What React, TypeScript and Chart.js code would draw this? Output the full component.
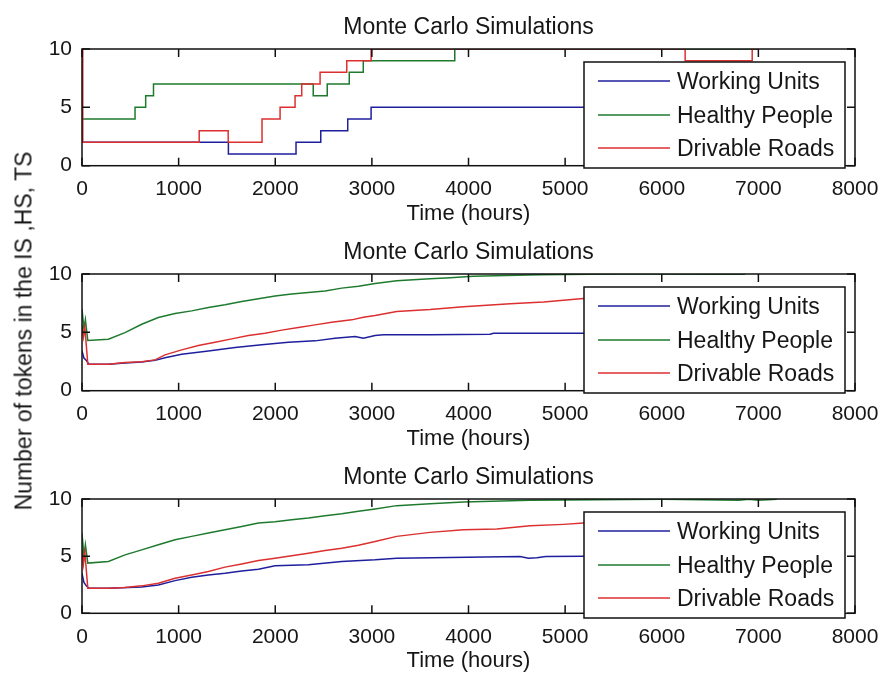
import React, { useEffect, useRef } from 'react';
import { Chart, registerables } from 'chart.js';

Chart.register(...registerables);

// ---------- text ----------
const PLOT_TITLE = 'Monte Carlo Simulations';
const X_TITLE = 'Time (hours)';
const Y_TITLE = 'Number of tokens in the IS ,HS, TS';
const SERIES_NAMES = ['Working Units', 'Healthy People', 'Drivable Roads'];
const SERIES_COLORS = ['#1f1f9e', '#1e7b2e', '#dc2f2f'];

// ---------- ticks ----------
const X_TICKS = [0, 1000, 2000, 3000, 4000, 5000, 6000, 7000, 8000];
const Y_TICKS = [0, 5, 10];

// ---------- subplot 1: single run (step values: value changes at given hour) ----------
const run1WorkingX = [0, 1515, 2215, 2471, 2750, 2992, 7000];
const run1WorkingY = [2, 1, 2, 3, 4, 5, 5];
const run1HealthyX = [0, 549, 659, 740, 2393, 2538, 2766, 2911, 3858, 7000];
const run1HealthyY = [4, 5, 6, 7, 6, 7, 8, 9, 10, 10];
const run1RoadsX = [0, 8, 1213, 1513, 1863, 2050, 2205, 2274, 2464, 2740, 2992, 6242, 6936, 7000];
const run1RoadsY = [10, 2, 3, 2, 4, 5, 6, 7, 8, 9, 10, 9, 10, 10];

// ---------- subplot 2: averaged runs ----------
const run2WorkingX = [0, 20, 45, 70, 273, 445, 618, 756, 859, 1032, 1308, 1584, 1860, 2136, 2412, 2619, 2826, 2912, 3033, 3119, 3602, 4224, 4258, 5190, 6000, 6863];
const run2WorkingY = [3.4, 2.8, 2.6, 2.27, 2.27, 2.38, 2.45, 2.6, 2.83, 3.13, 3.41, 3.7, 3.93, 4.16, 4.27, 4.5, 4.64, 4.5, 4.73, 4.79, 4.79, 4.84, 4.93, 4.93, 5.0, 5.0];
const run2HealthyX = [0, 20, 35, 60, 273, 445, 618, 790, 963, 1135, 1308, 1480, 1653, 1826, 1998, 2170, 2343, 2516, 2688, 2861, 3033, 3257, 3602, 3810, 4048, 4741, 5538, 6100, 6500, 6863];
const run2HealthyY = [7.0, 5.3, 6.1, 4.3, 4.41, 4.98, 5.69, 6.27, 6.61, 6.84, 7.13, 7.36, 7.65, 7.88, 8.11, 8.28, 8.42, 8.55, 8.79, 8.95, 9.18, 9.43, 9.6, 9.68, 9.8, 9.94, 10.0, 10.0, 9.97, 9.97];
const run2RoadsX = [0, 15, 30, 60, 273, 445, 618, 756, 859, 1032, 1204, 1377, 1549, 1722, 1894, 2067, 2239, 2412, 2584, 2791, 2912, 3033, 3257, 3602, 3947, 4431, 4776, 5190, 5600, 6200, 6863];
const run2RoadsY = [5.6, 4.6, 5.4, 2.27, 2.27, 2.41, 2.49, 2.64, 3.07, 3.5, 3.87, 4.16, 4.44, 4.73, 4.93, 5.19, 5.41, 5.64, 5.87, 6.07, 6.3, 6.45, 6.79, 6.95, 7.2, 7.45, 7.6, 7.9, 8.1, 8.3, 8.5];

// ---------- subplot 3: averaged runs ----------
const run3WorkingX = [0, 20, 45, 70, 273, 618, 790, 963, 1135, 1308, 1480, 1653, 1826, 1998, 2343, 2688, 3033, 3257, 4534, 4620, 4707, 4800, 5190, 7190];
const run3WorkingY = [3.5, 2.7, 2.4, 2.19, 2.19, 2.3, 2.48, 2.86, 3.16, 3.36, 3.5, 3.71, 3.86, 4.15, 4.24, 4.53, 4.68, 4.82, 4.97, 4.82, 4.85, 4.97, 5.0, 5.0];
const run3HealthyX = [0, 20, 35, 60, 273, 445, 618, 790, 963, 1135, 1308, 1480, 1653, 1826, 1998, 2170, 2343, 2516, 2688, 2861, 3033, 3257, 3602, 3947, 4638, 5328, 6017, 6800, 6900, 7000, 7190];
const run3HealthyY = [7.0, 5.0, 6.0, 4.39, 4.53, 5.11, 5.55, 5.99, 6.43, 6.73, 7.02, 7.31, 7.6, 7.89, 8.01, 8.19, 8.33, 8.54, 8.71, 8.92, 9.12, 9.42, 9.59, 9.74, 9.88, 9.94, 9.97, 9.9, 9.97, 9.9, 9.97];
const run3RoadsX = [0, 15, 30, 60, 273, 445, 618, 790, 963, 1135, 1308, 1480, 1653, 1826, 1998, 2170, 2343, 2516, 2688, 2861, 3033, 3257, 3602, 3947, 4293, 4638, 4983, 5190, 6000, 7190];
const run3RoadsY = [5.6, 4.3, 5.3, 2.19, 2.19, 2.25, 2.4, 2.63, 3.07, 3.36, 3.65, 4.04, 4.32, 4.61, 4.82, 5.03, 5.26, 5.49, 5.7, 5.95, 6.28, 6.73, 7.08, 7.31, 7.37, 7.66, 7.78, 7.89, 8.2, 8.5];

const FONT = '"Liberation Sans", Arial, sans-serif';
const TEXT_COLOR = '#161616';

const framePlugin = {
  id: 'matlabFrame',
  afterDatasetsDraw(chart: any) {
    const { ctx, chartArea: a, scales } = chart;
    const xs = scales.x;
    const ys = scales.y;
    ctx.save();
    ctx.strokeStyle = '#111';
    ctx.lineWidth = 1.5;
    ctx.strokeRect(a.left, a.top, a.right - a.left, a.bottom - a.top);
    ctx.beginPath();
    X_TICKS.forEach((v) => {
      const px = xs.getPixelForValue(v);
      ctx.moveTo(px, a.bottom);
      ctx.lineTo(px, a.bottom - 8);
      ctx.moveTo(px, a.top);
      ctx.lineTo(px, a.top + 8);
    });
    Y_TICKS.forEach((v) => {
      const py = ys.getPixelForValue(v);
      ctx.moveTo(a.left, py);
      ctx.lineTo(a.left + 8, py);
      ctx.moveTo(a.right, py);
      ctx.lineTo(a.right - 8, py);
    });
    ctx.stroke();

    // legend box (MATLAB style, inside the axes)
    const lx = a.right - 271;
    const ly = a.top + 13;
    const lw = 261;
    const lh = 106;
    ctx.fillStyle = '#ffffff';
    ctx.fillRect(lx, ly, lw, lh);
    ctx.strokeStyle = '#111';
    ctx.lineWidth = 1.5;
    ctx.strokeRect(lx, ly, lw, lh);
    const rows = [21, 55, 88];
    ctx.font = `23px ${FONT}`;
    ctx.textBaseline = 'middle';
    ctx.textAlign = 'left';
    chart.data.datasets.forEach((ds: any, i: number) => {
      const cy = ly + rows[i];
      ctx.strokeStyle = ds.borderColor;
      ctx.lineWidth = 1.5;
      ctx.beginPath();
      ctx.moveTo(lx + 14, cy - 2);
      ctx.lineTo(lx + 86, cy - 2);
      ctx.stroke();
      ctx.fillStyle = TEXT_COLOR;
      ctx.fillText(ds.label, lx + 93, cy);
    });
    ctx.restore();
  },
};

type Series = { xs: number[]; ys: number[] };

function makeConfig(series: Series[], stepped: boolean, padBottom: number) {
  return {
    type: 'line' as const,
    data: {
      datasets: series.map((s, i) => ({
        label: SERIES_NAMES[i],
        data: s.xs.map((x, j) => ({ x, y: s.ys[j] })),
        borderColor: SERIES_COLORS[i],
        backgroundColor: SERIES_COLORS[i],
        borderWidth: 1.5,
        pointRadius: 0,
        fill: false,
        tension: 0,
        stepped: stepped ? 'before' : false,
        // later series are drawn on top (as in MATLAB's plot order)
        order: series.length - i,
      })),
    },
    options: {
      responsive: false,
      animation: false,
      events: [],
      layout: { padding: { top: 0, left: 0, right: 30, bottom: padBottom } },
      plugins: {
        legend: { display: false },
        tooltip: { enabled: false },
        title: {
          display: true,
          text: PLOT_TITLE,
          fullSize: false,
          color: TEXT_COLOR,
          font: { size: 23, family: FONT, weight: 'normal' },
          padding: { top: 14, bottom: 7.4 },
        },
      },
      scales: {
        x: {
          type: 'linear',
          min: 0,
          max: 8000,
          afterBuildTicks: (s: any) => {
            s.ticks = X_TICKS.map((v) => ({ value: v }));
          },
          ticks: {
            color: TEXT_COLOR,
            font: { size: 21, family: FONT },
            padding: 11,
            maxRotation: 0,
            autoSkip: false,
            callback: (v: any) => String(v),
          },
          grid: { display: false, drawTicks: false },
          border: { display: false },
          title: {
            display: true,
            text: X_TITLE,
            color: TEXT_COLOR,
            font: { size: 22, family: FONT },
            padding: { top: 4, bottom: 4 },
          },
          afterFit: (s: any) => {
            s.height = 65.2;
            s.paddingLeft = 0;
            s.paddingRight = 0;
          },
        },
        y: {
          type: 'linear',
          min: 0,
          max: 10,
          afterBuildTicks: (s: any) => {
            s.ticks = Y_TICKS.map((v) => ({ value: v }));
          },
          ticks: {
            color: TEXT_COLOR,
            font: { size: 21, family: FONT },
            padding: 10,
            callback: (v: any) => String(v),
          },
          grid: { display: false, drawTicks: false },
          border: { display: false },
          afterFit: (s: any) => {
            s.width = 82;
            s.paddingTop = 0;
            s.paddingBottom = 0;
          },
        },
      },
    },
    plugins: [framePlugin],
  };
}

function SubPlot(props: { top: number; series: Series[]; stepped: boolean; padBottom: number }) {
  const ref = useRef<HTMLCanvasElement | null>(null);
  useEffect(() => {
    if (!ref.current) return;
    const chart = new Chart(ref.current, makeConfig(props.series, props.stepped, props.padBottom) as any);
    return () => chart.destroy();
  }, []);
  return (
    <canvas
      ref={ref}
      width={885}
      height={232}
      style={{ position: 'absolute', left: 0, top: props.top, width: 885, height: 232 }}
    />
  );
}

export default function App() {
  const s1: Series[] = [
    { xs: run1WorkingX, ys: run1WorkingY },
    { xs: run1HealthyX, ys: run1HealthyY },
    { xs: run1RoadsX, ys: run1RoadsY },
  ];
  const s2: Series[] = [
    { xs: run2WorkingX, ys: run2WorkingY },
    { xs: run2HealthyX, ys: run2HealthyY },
    { xs: run2RoadsX, ys: run2RoadsY },
  ];
  const s3: Series[] = [
    { xs: run3WorkingX, ys: run3WorkingY },
    { xs: run3HealthyX, ys: run3HealthyY },
    { xs: run3RoadsX, ys: run3RoadsY },
  ];
  return (
    <div
      style={{
        position: 'absolute',
        left: 0,
        top: 0,
        width: 885,
        height: 680,
        overflow: 'hidden',
        background: '#ffffff',
      }}
    >
      <SubPlot top={0} series={s1} stepped={true} padBottom={1.1} />
      <SubPlot top={225} series={s2} stepped={false} padBottom={1.1} />
      <SubPlot top={450} series={s3} stepped={false} padBottom={3.5} />
      <div
        style={{
          position: 'absolute',
          left: 24,
          top: 331,
          transform: 'translate(-50%, -50%) rotate(-90deg)',
          whiteSpace: 'nowrap',
          fontFamily: FONT,
          fontSize: 23,
          lineHeight: '23px',
          color: TEXT_COLOR,
        }}
      >
        {Y_TITLE}
      </div>
    </div>
  );
}
